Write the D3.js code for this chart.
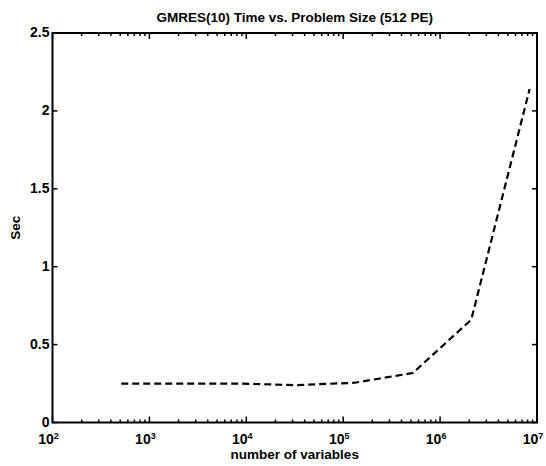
<!DOCTYPE html>
<html>
<head>
<meta charset="utf-8">
<script src="https://cdn.jsdelivr.net/npm/d3@7"></script>
<style>
  body { margin: 0; background: #fff; }
  svg { font-family: "Liberation Sans", Arial, sans-serif; font-weight: bold; }
  .frame { fill: none; stroke: #000; stroke-width: 2; }
  .tick { stroke: #000; stroke-width: 1.5; }
  .series { fill: none; stroke: #000; stroke-width: 2.2; stroke-dasharray: 7,4; }
</style>
</head>
<body>
<svg width="546" height="466"></svg>
<script>
"use strict";

// problem sizes (number of variables) and time in seconds
var sizes = [512, 2048, 8192, 32768, 131072, 524288, 2097152, 8388608];
var secs = [0.25, 0.25, 0.25, 0.24, 0.255, 0.318, 0.66, 2.14];
var xTicks = [1e2, 1e3, 1e4, 1e5, 1e6, 1e7];
var yTicks = [0, 0.5, 1, 1.5, 2, 2.5];
var yTickLabels = ["0", "0.5", "1", "1.5", "2", "2.5"];

var svg = d3.select("svg");
var plotL = 52.5, plotR = 537, plotT = 33, plotB = 422.5;

var x = d3.scaleLog().domain([1e2, 1e7]).range([plotL, plotR]);
var y = d3.scaleLinear().domain([0, 2.5]).range([plotB, plotT]);

// minor ticks for the log axis
var minor = [];
for (var d = 2; d < 7; d++) {
  for (var m = 2; m < 10; m++) minor.push(m * Math.pow(10, d));
}

var ticks = svg.append("g");
// x ticks, bottom and top, pointing inward
[[plotB, -1], [plotT, 1]].forEach(function(s) {
  ticks.selectAll(null).data(xTicks).enter().append("line")
    .attr("class", "tick")
    .attr("x1", function(d) { return x(d); }).attr("x2", function(d) { return x(d); })
    .attr("y1", s[0]).attr("y2", s[0] + s[1] * 6);
  ticks.selectAll(null).data(minor).enter().append("line")
    .attr("class", "tick")
    .attr("x1", function(d) { return x(d); }).attr("x2", function(d) { return x(d); })
    .attr("y1", s[0]).attr("y2", s[0] + s[1] * 3);
});
// y ticks, left and right
[[plotL, 1], [plotR, -1]].forEach(function(s) {
  ticks.selectAll(null).data(yTicks).enter().append("line")
    .attr("class", "tick")
    .attr("y1", function(d) { return y(d); }).attr("y2", function(d) { return y(d); })
    .attr("x1", s[0]).attr("x2", s[0] + s[1] * 5);
});

svg.append("rect").attr("class", "frame")
  .attr("x", plotL).attr("y", plotT)
  .attr("width", plotR - plotL).attr("height", plotB - plotT);

// y tick labels
svg.append("g").selectAll("text").data(yTicks).enter().append("text")
  .attr("x", plotL - 3)
  .attr("y", function(d) { return y(d) + 4; })
  .attr("text-anchor", "end")
  .style("font-size", "14px")
  .text(function(d, i) { return yTickLabels[i]; });

// x tick labels as 10 with superscript exponent
var xl = svg.append("g").selectAll("text").data(xTicks).enter().append("text")
  .attr("x", function(d) { return x(d) - 4; })
  .attr("y", plotB + 21)
  .attr("text-anchor", "middle")
  .style("font-size", "14px");
xl.append("tspan").text("10");
xl.append("tspan")
  .attr("dy", -5)
  .style("font-size", "9px")
  .text(function(d) { return Math.round(Math.log10(d)); });

var line = d3.line()
  .x(function(d, i) { return x(sizes[i]); })
  .y(function(d) { return y(d); });

svg.append("path").attr("class", "series")
  .attr("d", line(secs));

svg.append("text")
  .attr("x", (plotL + plotR) / 2).attr("y", 22)
  .attr("text-anchor", "middle")
  .style("font-size", "13.5px")
  .text("GMRES(10) Time vs. Problem Size (512 PE)");

svg.append("text")
  .attr("x", (plotL + plotR) / 2).attr("y", 459)
  .attr("text-anchor", "middle")
  .style("font-size", "13.5px")
  .text("number of variables");

svg.append("text")
  .attr("transform", "translate(20," + (plotT + plotB) / 2 + ") rotate(-90)")
  .attr("text-anchor", "middle")
  .style("font-size", "13.5px")
  .text("Sec");
</script>
</body>
</html>
